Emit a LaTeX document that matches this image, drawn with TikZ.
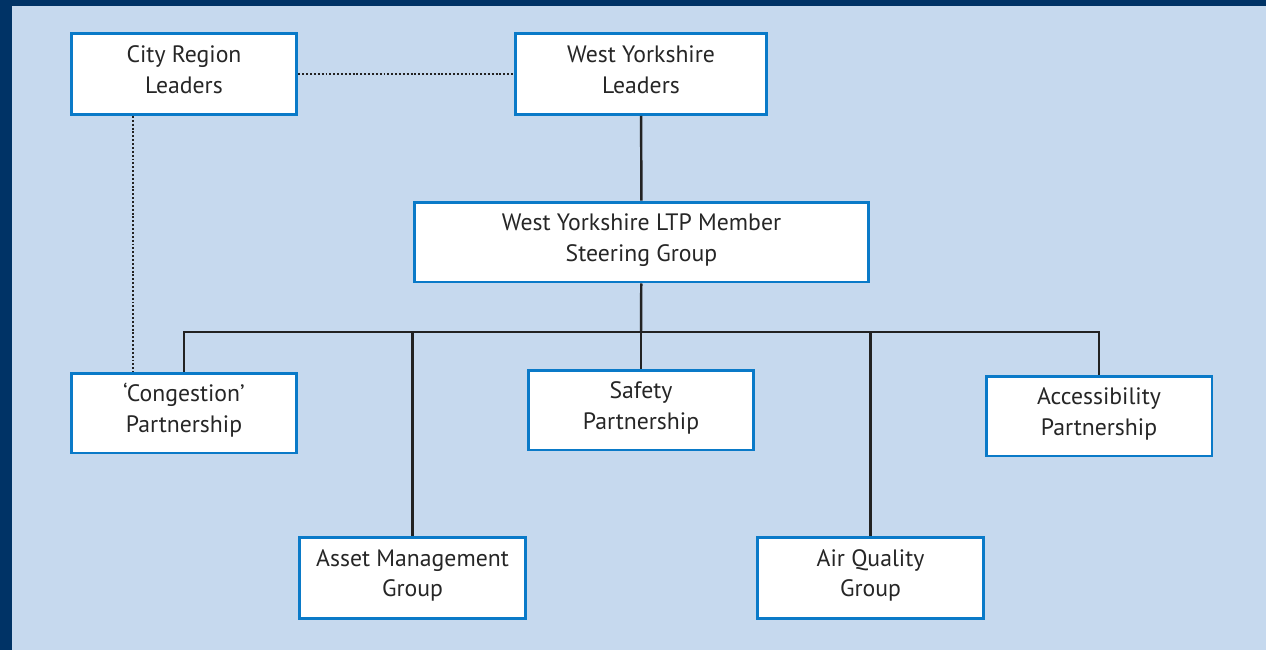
\documentclass[tikz,border=0pt]{standalone}
\usepackage{fontspec}
\setmainfont{PT Sans}
\usepackage{xcolor}
\usepackage{tikz}

\definecolor{navy}{HTML}{003366}
\definecolor{paleblue}{HTML}{C6D9EE}
\definecolor{boxblue}{HTML}{0A7AC8}
\definecolor{linegrey}{HTML}{222222}

% two lines of a box, with struts so every box sets its text alike
\newcommand{\boxlines}[2]{\rule{0pt}{10.5pt}#1\\#2\rule[-6pt]{0pt}{6pt}}

\begin{document}
\begin{tikzpicture}[x=0.02cm,y=-0.02cm]
        \tikzset{group/.style={rectangle,draw=boxblue,line width=1.7pt,fill=white,align=center,
            minimum width=4.52cm,minimum height=1.62cm,inner sep=0pt,
            font=\fontsize{13.5}{17.3}\selectfont,text=black!85}};
        \tikzset{link/.style={draw=linegrey,line width=1.4pt}};
        \tikzset{linkdot/.style={draw=linegrey,line width=1.4pt,dash pattern=on 1.1pt off 1.1pt}};

        \fill [navy] (0,0) rectangle (1266,650);
        \fill [paleblue] (12,6) rectangle (1266,650);

        \node [group] (cityreg) at (184,74) {\boxlines{City Region}{Leaders}};
        \node [group,minimum width=5.04cm] (wyleaders) at (641,74) {\boxlines{West Yorkshire}{Leaders}};
        \node [group,minimum width=9.1cm,minimum height=1.6cm] (steering) at (641.5,242) {\boxlines{West Yorkshire LTP Member}{Steering Group}};
        \node [group,minimum height=1.6cm] (congestion) at (184,413) {\boxlines{`Congestion'}{Partnership}};
        \node [group,minimum height=1.6cm] (safety) at (641,410) {\boxlines{Safety}{Partnership}};
        \node [group,minimum height=1.6cm] (access) at (1099,416) {\boxlines{Accessibility}{Partnership}};
        \node [group] (asset) at (412.5,577.5) {\boxlines{Asset Management}{Group}};
        \node [group] (airq) at (870.5,577.5) {\boxlines{Air Quality}{Group}};

        \coordinate (bus) at (641,332);

        \draw [link] (wyleaders) -- (steering);
        \draw [link] (steering) -- (bus);
        \draw [link] (bus) -| (congestion);
        \draw [link] (bus) -| (asset);
        \draw [link] (bus) -- (safety);
        \draw [link] (bus) -| (airq);
        \draw [link] (bus) -| (access);

        \draw [linkdot] (cityreg) -- (wyleaders);
        \draw [linkdot] ([xshift=-1.02cm]cityreg.south) -- ([xshift=-1.02cm]congestion.north);
    \end{tikzpicture}
\end{document}
